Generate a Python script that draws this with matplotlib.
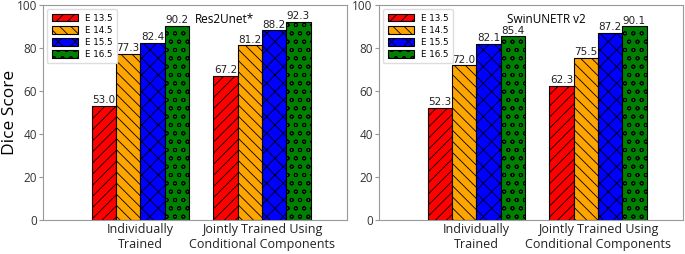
import matplotlib
matplotlib.use("Agg")
import matplotlib.pyplot as plt
import numpy as np

categories = ["Individually\nTrained", "Jointly Trained Using\nConditional Components"]
series = ["E 13.5", "E 14.5", "E 15.5", "E 16.5"]
res2unet = [[53.0, 67.2], [77.3, 81.2], [82.4, 88.2], [90.2, 92.3]]
swin = [[52.3, 62.3], [72.0, 75.5], [82.1, 87.2], [85.4, 90.1]]
titles = ["Res2Unet*", "SwinUNETR v2"]
colors = ["#ff0000", "#ffa500", "#0000ff", "#008000"]
hatches = ["///", "\\\\\\", "xx", "oo"]

plt.rcParams['hatch.linewidth'] = 0.6
fig = plt.figure(figsize=(6.85, 2.54), dpi=100)
ax1 = fig.add_axes([0.0628, 0.134, 0.4438, 0.846])
ax2 = fig.add_axes([0.5533, 0.134, 0.4438, 0.846])

tfont = "Open Sans"
x = np.arange(len(categories))
w = 0.2
for ax, data, title, tx in [(ax1, res2unet, titles[0], 0.50), (ax2, swin, titles[1], 0.42)]:
    for i, (s, vals) in enumerate(zip(series, data)):
        bars = ax.bar(x + (i - 1.5) * w, vals, w, color=colors[i], edgecolor="black",
                      linewidth=0.8, hatch=hatches[i], label=s)
        for b, v in zip(bars, vals):
            ax.text(b.get_x() + b.get_width() / 2, v + 0.3, f"{v:.1f}", ha="center",
                    va="bottom", fontsize=7.5, color="#222222")
    ax.set_xlim(-0.8, 1.7)
    ax.set_ylim(0, 100)
    ax.set_xticks(x)
    ax.set_xticklabels(categories, fontsize=9, family=tfont, color="#222222")
    ax.set_yticks([0, 20, 40, 60, 80, 100])
    ax.set_yticklabels(["0", "20", "40", "60", "80", "100"], fontsize=8.5, family=tfont, color="#333333")
    ax.tick_params(axis="x", length=0, pad=2)
    ax.tick_params(axis="y", length=3, color="#999999", pad=1.5)
    for sp in ax.spines.values():
        sp.set_color("#999999")
    ax.text(tx, 0.965, title, transform=ax.transAxes, ha="left", va="top",
            fontsize=8.5, family=tfont)
    ax.legend(loc="upper left", fontsize=6.3, handlelength=3.0, handleheight=0.9,
              borderpad=0.5, labelspacing=0.35, framealpha=1, edgecolor="#dddddd",
              fancybox=True)

ax1.set_ylabel("Dice Score", fontsize=12.5, family=tfont, va="center")
ax1.yaxis.set_label_coords(-0.11, 0.5)
fig.savefig("out.png", dpi=100)
